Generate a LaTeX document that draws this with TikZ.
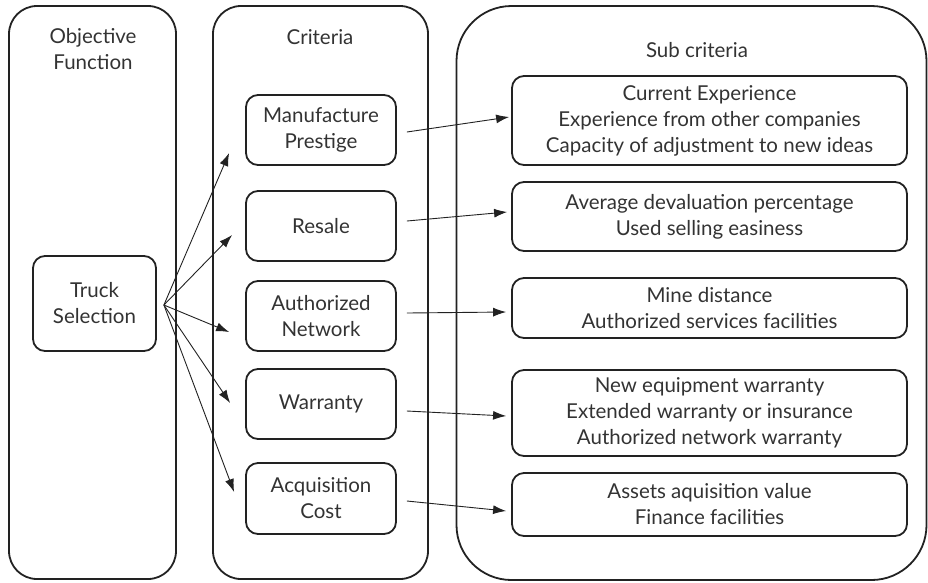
\documentclass[tikz,border=0pt]{standalone}
\usepackage{fontspec}
\setmainfont{Lato}
\usetikzlibrary{arrows.meta}
\definecolor{ink}{HTML}{222222}
\definecolor{txt}{HTML}{333333}
\begin{document}
\begin{tikzpicture}[x=1pt,y=-1pt,
  every node/.style={font=\fontsize{20.5}{26}\selectfont, text=txt},
  column/.style={draw=ink, line width=1.8pt, rounded corners=28pt, inner sep=0pt},
  critbox/.style={draw=ink, line width=1.8pt, rounded corners=12pt,
    minimum width=150pt, minimum height=70pt, align=center, inner sep=0pt},
  subbox/.style={draw=ink, line width=1.8pt, rounded corners=12pt,
    minimum width=395pt, align=center, inner sep=0pt},
  heading/.style={align=center, inner sep=0pt},
  link/.style={draw=ink, -{Latex[length=13pt,width=9pt]}, line width=0.9pt}]

\useasboundingbox (0,0) rectangle (928,582);

% three columns
\node[column, minimum width=167pt, minimum height=573pt] (objcol) at (92.5,292.5) {};
\node[column, minimum width=215pt, minimum height=573pt] (critcol) at (320.5,292.5) {};
\node[column, rounded corners=55pt, minimum width=470pt, minimum height=574pt] (subcol) at (691.5,293) {};

% column headings
\node[heading] (objhead) at (93,49.5) {Objective\\Function};
\node[heading] (crithead) at (320,37) {Criteria};
\node[heading] (subhead) at (697,50) {Sub criteria};

% objective
\node[critbox, minimum width=123pt, minimum height=95pt] (truck) at (94.5,303.5) {Truck\\Selection};

% criteria
\node[critbox] (manu) at (321,130) {Manufacture\\Prestige};
\node[critbox] (resale) at (321,226) {Resale};
\node[critbox] (auth) at (321,316) {Authorized\\Network};
\node[critbox] (warr) at (321,404) {Warranty};
\node[critbox, minimum height=71pt] (acq) at (321,498.5) {Acquisition\\Cost};

% sub criteria
\node[subbox, minimum height=89pt] (sub1) at (709.5,120.5)
  {Current Experience\\Experience from other companies\\Capacity of adjustment to new ideas};
\node[subbox, minimum height=69pt] (sub2) at (709.5,216.5)
  {Average devaluation percentage\\Used selling easiness};
\node[subbox, minimum height=60pt] (sub3) at (709.5,308)
  {Mine distance\\Authorized services facilities};
\node[subbox, minimum height=86pt] (sub4) at (709.5,413)
  {New equipment warranty\\Extended warranty or insurance\\Authorized network warranty};
\node[subbox, minimum height=63pt] (sub5) at (709.5,504.5)
  {Assets aquisition value\\Finance facilities};

% objective to criteria
\coordinate (fan) at ([shift={(7,1.5)}]truck.east);
\draw[link] (fan) -- ([shift={(-16,23)}]manu.west);
\draw[link] (fan) -- ([shift={(-13,9)}]resale.west);
\draw[link] (fan) -- ([shift={(-16,16)}]auth.west);
\draw[link] (fan) -- ([shift={(-15,-1)}]warr.west);
\draw[link] (fan) -- ([shift={(-11,-6.5)}]acq.west);

% criteria to sub criteria
\draw[link] ([shift={(10,2)}]manu.east) -- ([shift={(-2,-3.5)}]sub1.west);
\draw[link] ([shift={(10,-5)}]resale.east) -- ([shift={(-4,-4.5)}]sub2.west);
\draw[link] ([shift={(10,-3)}]auth.east) -- ([shift={(-5,4)}]sub3.west);
\draw[link] ([shift={(10,7)}]warr.east) -- ([shift={(-5,3)}]sub4.west);
\draw[link] ([shift={(10,2.5)}]acq.east) -- ([shift={(-5,6.5)}]sub5.west);
\end{tikzpicture}
\end{document}
